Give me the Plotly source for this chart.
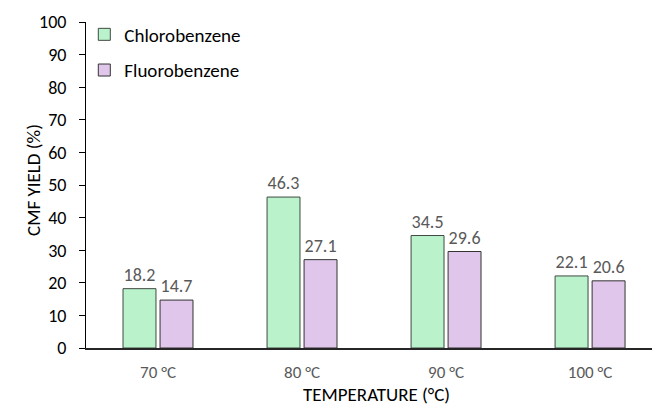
import plotly.graph_objects as go

categories = ["70 °C", "80 °C", "90 °C", "100 °C"]
chlorobenzene = [18.2, 46.3, 34.5, 22.1]
fluorobenzene = [14.7, 27.1, 29.6, 20.6]
y_ticks = [0, 10, 20, 30, 40, 50, 60, 70, 80, 90, 100]
x_title = "TEMPERATURE (°C)"
y_title = "CMF YIELD (%)"

FONT = "Carlito, Lato, sans-serif"

fig = go.Figure()
fig.add_trace(go.Bar(
    name="Chlorobenzene", x=categories, y=chlorobenzene, legendgroup="a",
    marker=dict(color="#b9f2cb", line=dict(color="#3f4a42", width=1)),
    text=[f"{v:.1f}" for v in chlorobenzene], textposition="outside",
    textfont=dict(color="#595959", size=18, family=FONT), cliponaxis=False,
))
fig.add_trace(go.Bar(
    name="Fluorobenzene", x=categories, y=fluorobenzene, legendgroup="b",
    marker=dict(color="#e0c6ea", line=dict(color="#333333", width=1)),
    text=[f"{v:.1f}" for v in fluorobenzene], textposition="outside",
    textfont=dict(color="#595959", size=18, family=FONT), cliponaxis=False,
))

fig.update_layout(
    width=652, height=405,
    margin=dict(l=86, r=0, t=22, b=57, autoexpand=False),
    plot_bgcolor="white", paper_bgcolor="white",
    font=dict(family=FONT, size=18, color="black"),
    barmode="group", bargap=0.486, bargroupgap=0.11,
    showlegend=True,
    legend=dict(x=-0.003, y=1.02, xanchor="left", yanchor="top",
                font=dict(size=19, color="black", family=FONT),
                bgcolor="rgba(0,0,0,0)", tracegroupgap=8, itemwidth=30),
    xaxis=dict(range=[-0.5, 3.43], showline=True, linecolor="#262626", linewidth=1.5,
               ticks="", tickfont=dict(color="#595959", size=17), automargin=False,
               ticklabelstandoff=8, showgrid=False),
    yaxis=dict(range=[0, 100], tickvals=y_ticks, showline=True, linecolor="black", linewidth=1,
               ticks="outside", ticklen=6, tickcolor="black", automargin=False,
               ticklabelstandoff=9,
               tickfont=dict(size=18, color="black"), showgrid=False, zeroline=False),
    annotations=[
        dict(text=x_title, xref="paper", yref="paper", x=0.514, y=-0.142,
             xanchor="center", yanchor="middle", showarrow=False,
             font=dict(size=19, color="black", family=FONT)),
        dict(text=y_title, xref="paper", yref="paper", x=-0.094, y=0.515,
             xanchor="center", yanchor="middle", showarrow=False, textangle=-90,
             font=dict(size=19, color="black", family=FONT)),
    ],
)

fig.write_html("out.html", config={"displayModeBar": False},
               post_script="document.body.style.margin='0';document.body.style.padding='0';")
